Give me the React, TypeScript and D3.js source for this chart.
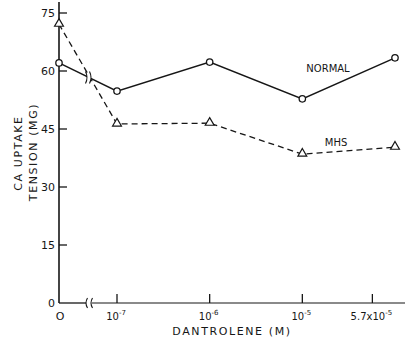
import React, { useEffect, useRef } from 'react';
import * as d3 from 'd3';

// dantrolene concentration (M); 0 is drawn left of the axis break
const doses = [0, 1e-7, 1e-6, 1e-5, 1e-4];
const normalValues = [62.1, 54.8, 62.3, 52.8, 63.4];
const mhsValues = [72.1, 46.3, 46.5, 38.5, 40.3];

const yTicks = [0, 15, 30, 45, 60, 75];
const xTicks = [1e-7, 1e-6, 1e-5, 5.7e-5];
const xTickLabels = [
    { base: '10', exp: '-7' },
    { base: '10', exp: '-6' },
    { base: '10', exp: '-5' },
    { base: '5.7x10', exp: '-5' },
];

const W = 414, H = 338;
const INK = '#161616';
const FONT = '"DejaVu Sans", sans-serif';

export default function App() {
    const ref = useRef<SVGSVGElement | null>(null);

    useEffect(() => {
        const svg = d3.select(ref.current);
        svg.selectAll('*').remove();

        const x0 = 59;
        const xLog = d3.scaleLog().domain([1e-7, 1e-4]).range([117, 395]);
        const xPos = (d: number) => (d === 0 ? x0 : xLog(d));
        const y = d3.scaleLinear().domain([0, 75]).range([303, 13]);
        const breakX = 89;

        svg.append('rect').attr('width', W).attr('height', H).attr('fill', '#fff');

        const g = svg.append('g').attr('stroke', INK).attr('fill', 'none');

        // y axis
        g.append('line').attr('x1', x0).attr('x2', x0).attr('y1', y(0)).attr('y2', 2).attr('stroke-width', 1.6);
        g.selectAll('.ytick').data(yTicks.filter(t => t > 0)).enter().append('line')
            .attr('x1', x0).attr('x2', x0 + 8)
            .attr('y1', d => y(d)).attr('y2', d => y(d))
            .attr('stroke-width', 1.3);

        // x axis with break
        g.append('line').attr('x1', x0).attr('x2', breakX - 3).attr('y1', y(0)).attr('y2', y(0)).attr('stroke-width', 1.3);
        g.append('line').attr('x1', breakX + 3).attr('x2', 405).attr('y1', y(0)).attr('y2', y(0)).attr('stroke-width', 1.1);
        [breakX - 3, breakX + 2].forEach(bx => {
            g.append('path')
                .attr('d', `M${bx + 1.5},${y(0) - 5} Q${bx - 1.5},${y(0)} ${bx + 1.5},${y(0) + 5}`)
                .attr('stroke-width', 1.1);
        });
        g.selectAll('.xtick').data(xTicks).enter().append('line')
            .attr('x1', d => xLog(d)).attr('x2', d => xLog(d))
            .attr('y1', y(0)).attr('y2', y(0) - 9)
            .attr('stroke-width', 1.3);

        const line = d3.line<number>()
            .x((_, i) => xPos(doses[i]))
            .y(d => y(d));

        g.append('path').datum(normalValues).attr('d', line).attr('stroke-width', 1.5);
        g.append('path').datum(mhsValues).attr('d', line)
            .attr('stroke-width', 1.3).attr('stroke-dasharray', '6,4');

        // break marks on the normal curve
        const tb = (breakX - x0) / (xPos(doses[1]) - x0);
        const yb = y(normalValues[0]) + tb * (y(normalValues[1]) - y(normalValues[0]));
        g.append('rect').attr('x', breakX - 2).attr('y', yb - 4).attr('width', 4).attr('height', 8)
            .attr('fill', '#fff').attr('stroke', 'none');
        [breakX - 2.5, breakX + 1.5].forEach(bx => {
            g.append('path')
                .attr('d', `M${bx - 1},${yb - 6} Q${bx + 2},${yb} ${bx - 1},${yb + 6}`)
                .attr('stroke-width', 1.1);
        });

        // markers
        g.selectAll('.circ').data(normalValues).enter().append('circle')
            .attr('cx', (_, i) => xPos(doses[i])).attr('cy', d => y(d))
            .attr('r', 3.2).attr('fill', '#fff').attr('stroke-width', 1.3);
        const tri = d3.symbol().type(d3.symbolTriangle).size(34);
        g.selectAll('.tri').data(mhsValues).enter().append('path')
            .attr('d', tri)
            .attr('transform', (d, i) => `translate(${xPos(doses[i])},${y(d) - 0.5})`)
            .attr('fill', '#fff').attr('stroke-width', 1.2);

        const t = svg.append('g').attr('fill', INK).attr('font-family', FONT);

        // y tick labels
        t.selectAll('.ylab').data(yTicks).enter().append('text')
            .attr('x', 55).attr('y', d => y(d) + 4)
            .attr('text-anchor', 'end').attr('font-size', 11)
            .text(d => String(d));

        // x tick labels
        t.append('text').attr('x', x0 + 1).attr('y', 320).attr('text-anchor', 'middle')
            .attr('font-size', 11).text('O');
        xTicks.forEach((d, i) => {
            const lab = t.append('text').attr('x', xLog(d) - 1).attr('y', 320)
                .attr('text-anchor', 'middle').attr('font-size', 10);
            lab.append('tspan').text(xTickLabels[i].base);
            lab.append('tspan').attr('dy', -5).attr('font-size', 7).text(xTickLabels[i].exp);
        });

        // axis titles
        t.append('text').attr('x', 232).attr('y', 335).attr('text-anchor', 'middle')
            .attr('font-size', 11).attr('letter-spacing', 1.6).text('DANTROLENE (M)');
        t.append('text').attr('transform', 'translate(22,153) rotate(-90)')
            .attr('text-anchor', 'middle').attr('font-size', 11).attr('letter-spacing', 1.6)
            .text('CA UPTAKE');
        t.append('text').attr('transform', 'translate(37,152) rotate(-90)')
            .attr('text-anchor', 'middle').attr('font-size', 11).attr('letter-spacing', 1.6)
            .text('TENSION (MG)');

        // series labels
        t.append('text').attr('x', 328).attr('y', 72).attr('text-anchor', 'middle')
            .attr('font-size', 10).text('NORMAL');
        t.append('text').attr('x', 336).attr('y', 146).attr('text-anchor', 'middle')
            .attr('font-size', 10).text('MHS');
    }, []);

    return (
        <div style={{ position: 'absolute', left: 0, top: 0 }}>
            <svg ref={ref} width={W} height={H} style={{ display: 'block' }} />
        </div>
    );
}
